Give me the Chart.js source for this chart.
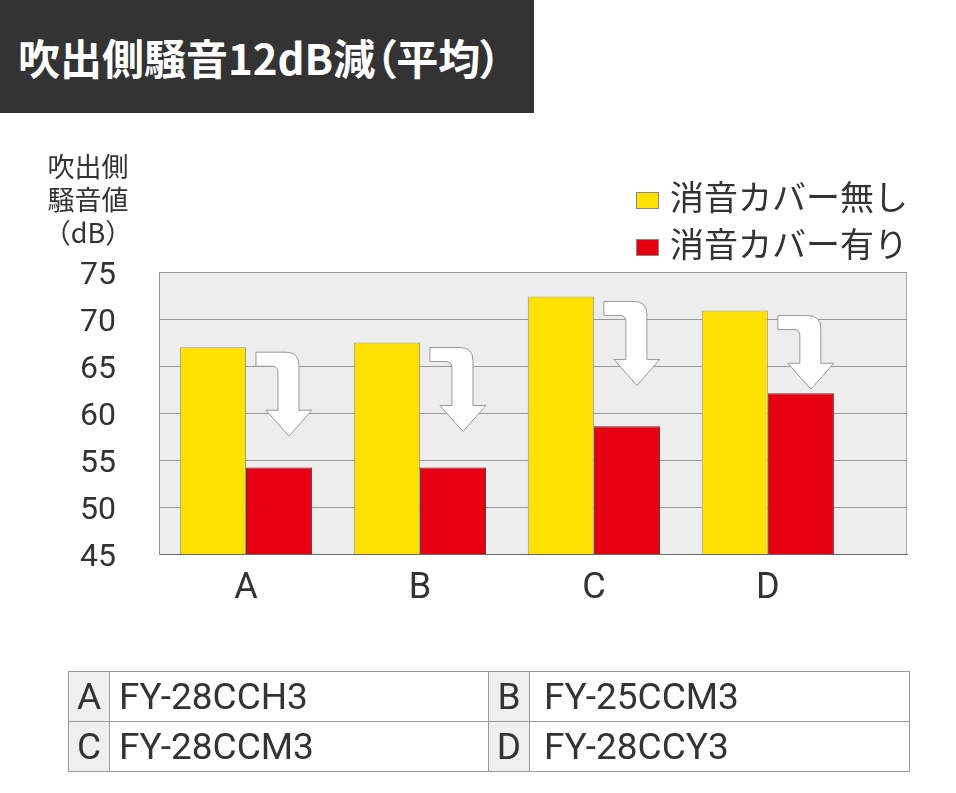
<!DOCTYPE html>
<html lang="ja">
<head>
<meta charset="utf-8">
<title>吹出側騒音12dB減（平均）</title>
<script src="https://cdn.jsdelivr.net/npm/chart.js@4"></script>
<style>
    body { margin: 0; background: #fff; color: #333; font-family: 'Noto Sans CJK JP', sans-serif; }
    #lienzo { position: relative; width: 956px; height: 793px; overflow: hidden; }
    #grafico { position: absolute; left: 0; top: 0; }
    .titulo {
        position: absolute; left: 0; top: 0; width: 534px; height: 113px;
        background: #333; color: #fff; font-weight: bold; font-size: 42px;
        line-height: 113px; padding-left: 18px; box-sizing: border-box; white-space: nowrap;
        font-feature-settings: "palt";
    }
    .eje-y {
        position: absolute; left: 38px; top: 149px; width: 100px;
        text-align: center; font-size: 27px; line-height: 33px;
    }
    .leyenda { position: absolute; left: 636px; top: 172px; font-size: 34px; }
    .leyenda .item { display: flex; align-items: center; height: 47px; white-space: nowrap; }
    .leyenda .caja {
        display: inline-block; width: 21px; height: 15px; border: 1px solid #888;
        margin-right: 11px; position: relative; top: 5px;
    }
    table.modelos {
        position: absolute; left: 68px; top: 671px; width: 841px;
        border-collapse: collapse; table-layout: fixed;
        font-family: Roboto, sans-serif; font-size: 37px; color: #333;
    }
    table.modelos td { border: 1px solid #999; height: 49px; padding: 0; white-space: nowrap; }
    table.modelos td.letra { background: #efefef; text-align: center; }
    table.modelos td.nombre { padding-left: 9px; }
    table.modelos td.nombre.derecha { padding-left: 14px; }
</style>
</head>
<body>
<div id="lienzo">
    <canvas id="grafico" width="956" height="793"></canvas>
    <div class="titulo">吹出側騒音12dB減（平均）</div>
    <div class="eje-y">吹出側<br>騒音値<br>（dB）</div>
    <div class="leyenda" id="leyenda"></div>
    <table class="modelos" id="modelos">
        <colgroup><col style="width:41px"><col style="width:379px"><col style="width:41px"><col style="width:380px"></colgroup>
    </table>
</div>
<script>
const categorias = ['A', 'B', 'C', 'D'];
const modelos = ['FY-28CCH3', 'FY-25CCM3', 'FY-28CCM3', 'FY-28CCY3'];
const series = ['消音カバー無し', '消音カバー有り'];
const sinCubierta = [67.0, 67.5, 72.4, 70.9];
const conCubierta = [54.2, 54.2, 58.6, 62.1];
const ticksY = [45, 50, 55, 60, 65, 70, 75];
const colores = ['#ffe100', '#e60012'];
const bordes = ['#9a9a7a', '#6b3030'];

Chart.defaults.font.family = 'Roboto, sans-serif';

function crearLeyenda() {
    const cont = document.getElementById('leyenda');
    series.forEach((nombre, i) => {
        const item = document.createElement('div');
        item.className = 'item';
        item.innerHTML = '<span class="caja" style="background:' + colores[i] + '"></span>' + nombre;
        cont.appendChild(item);
    });
}

function crearTabla() {
    const tabla = document.getElementById('modelos');
    for (let f = 0; f < categorias.length; f += 2) {
        const fila = document.createElement('tr');
        [f, f + 1].forEach((i, j) => {
            fila.innerHTML += '<td class="letra">' + categorias[i] + '</td>' +
                '<td class="nombre' + (j ? ' derecha' : '') + '">' + modelos[i] + '</td>';
        });
        tabla.appendChild(fila);
    }
}

const fondoArea = {
    id: 'fondoArea',
    beforeDraw(chart) {
        const { ctx, chartArea: a } = chart;
        ctx.save();
        ctx.fillStyle = '#ededed';
        ctx.fillRect(a.left, a.top, a.right - a.left, a.bottom - a.top);
        ctx.strokeStyle = '#aaa';
        ctx.lineWidth = 1;
        ctx.strokeRect(a.left + 0.5, a.top + 0.5, a.right - a.left - 1, a.bottom - a.top);
        ctx.restore();
    }
};

// flechas blancas entre la barra sin cubierta y la barra con cubierta
const flechas = {
    id: 'flechas',
    afterDatasetsDraw(chart) {
        const ctx = chart.ctx;
        const altas = chart.getDatasetMeta(0).data;
        const bajas = chart.getDatasetMeta(1).data;
        altas.forEach((barra, i) => {
            const x = barra.x + barra.width / 2 + 10;
            const y = barra.y + 5;
            const punta = Math.min(84, bajas[i].y - 4 - y);
            const base = punta - 26;
            ctx.save();
            ctx.translate(x, y);
            ctx.beginPath();
            ctx.moveTo(0, 0);
            ctx.lineTo(30, 0);
            ctx.quadraticCurveTo(43, 0, 43, 13);
            ctx.lineTo(43, base);
            ctx.lineTo(56, base);
            ctx.lineTo(33, punta);
            ctx.lineTo(10, base);
            ctx.lineTo(22, base);
            ctx.lineTo(22, 20);
            ctx.quadraticCurveTo(22, 14, 16, 14);
            ctx.lineTo(0, 14);
            ctx.closePath();
            ctx.fillStyle = '#fff';
            ctx.fill();
            ctx.strokeStyle = '#999';
            ctx.lineWidth = 1;
            ctx.stroke();
            ctx.restore();
        });
    }
};

function crearGrafico() {
    const ctx = document.getElementById('grafico').getContext('2d');
    new Chart(ctx, {
        type: 'bar',
        data: {
            datasets: [sinCubierta, conCubierta].map((valores, s) => ({
                label: series[s],
                data: valores.map((v, i) => ({ x: i, y: v })),
                backgroundColor: colores[s],
                borderColor: bordes[s],
                borderWidth: 1,
                categoryPercentage: 0.76,
                barPercentage: 1
            }))
        },
        options: {
            responsive: false,
            animation: false,
            layout: { padding: { top: 272, right: 49, bottom: 179, left: 0 } },
            plugins: {
                legend: { display: false },
                tooltip: { enabled: false }
            },
            scales: {
                x: {
                    type: 'linear',
                    offset: false,
                    min: -0.5,
                    max: 3.8,
                    grid: { display: false, drawTicks: false },
                    border: { color: '#666' },
                    afterBuildTicks: eje => { eje.ticks = categorias.map((c, i) => ({ value: i })); },
                    afterFit: eje => { eje.height = 60; },
                    ticks: {
                        padding: 13,
                        color: '#333',
                        font: { size: 36 },
                        autoSkip: false,
                        maxRotation: 0,
                        callback: v => categorias[v]
                    }
                },
                y: {
                    min: 45,
                    max: 75,
                    afterBuildTicks: eje => { eje.ticks = ticksY.map(v => ({ value: v })); },
                    afterFit: eje => { eje.width = 159; },
                    grid: { color: '#999', drawTicks: false },
                    border: { color: '#999' },
                    ticks: {
                        padding: 43,
                        color: '#333',
                        font: { size: 32 },
                        labelOffset: 4
                    }
                }
            }
        },
        plugins: [fondoArea, flechas]
    });
}

crearLeyenda();
crearTabla();
crearGrafico();
</script>
</body>
</html>
